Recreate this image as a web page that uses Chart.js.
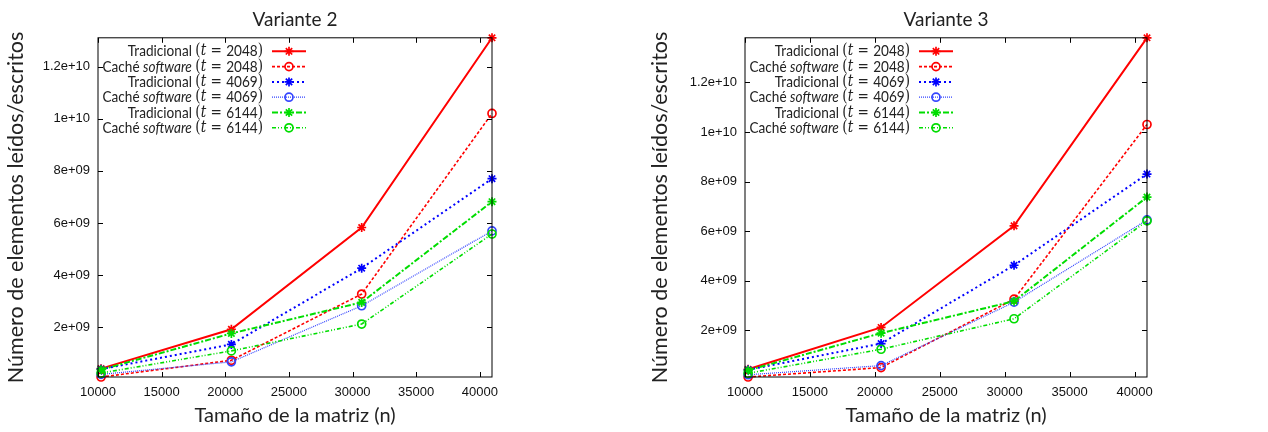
<!DOCTYPE html>
<html>
<head>
<meta charset="utf-8">
<script src="https://cdn.jsdelivr.net/npm/chart.js@4/dist/chart.umd.min.js"></script>
<style>
  html, body { margin: 0; padding: 0; background: #fff; }
  .wrap { position: absolute; top: 0; width: 634px; height: 432px; }
</style>
</head>
<body>
<div class="wrap" style="left:0"><canvas id="c2" width="634" height="432"></canvas></div>
<div class="wrap" style="left:634px"><canvas id="c3" width="634" height="432"></canvas></div>
<script>
// matrix sizes (n)
const nValues = [10240, 20480, 30720, 40960];

// Variante 2
const v2Trad2048 = [0.42e9, 1.93e9, 5.83e9, 13.1e9];
const v2Cache2048 = [0.10e9, 0.74e9, 3.28e9, 10.2e9];
const v2Trad4069 = [0.40e9, 1.35e9, 4.27e9, 7.70e9];
const v2Cache4069 = [0.20e9, 0.68e9, 2.83e9, 5.70e9];
const v2Trad6144 = [0.38e9, 1.77e9, 2.96e9, 6.82e9];
const v2Cache6144 = [0.25e9, 1.10e9, 2.13e9, 5.58e9];

// Variante 3
const v3Trad2048 = [0.42e9, 2.11e9, 6.21e9, 13.8e9];
const v3Cache2048 = [0.11e9, 0.49e9, 3.25e9, 10.3e9];
const v3Trad4069 = [0.40e9, 1.46e9, 4.62e9, 8.30e9];
const v3Cache4069 = [0.20e9, 0.57e9, 3.13e9, 6.45e9];
const v3Trad6144 = [0.38e9, 1.88e9, 3.17e9, 7.37e9];
const v3Cache6144 = [0.26e9, 1.23e9, 2.46e9, 6.41e9];

const xTicks = [10000, 15000, 20000, 25000, 30000, 35000, 40000];
const yTicks = [2e9, 4e9, 6e9, 8e9, 1e10, 1.2e10];
const yTickLabels = ['2e+09', '4e+09', '6e+09', '8e+09', '1e+10', '1.2e+10'];
const xMin = 10000;

const legendMethods = ['Tradicional', 'Caché software', 'Tradicional', 'Caché software', 'Tradicional', 'Caché software'];
const legendSizes = ['2048', '2048', '4069', '4069', '6144', '6144'];

const TEXT = '#222';
const SANS = 'Lato, "DejaVu Sans", sans-serif';
const SERIF = '"DejaVu Serif", "Liberation Serif", serif';
const TICKFONT = '"Liberation Sans", Arial, sans-serif';

const seriesStyles = [
  { color: '#ff0000', dash: [], width: 2, marker: 'star' },
  { color: '#ff0000', dash: [3, 2], width: 1.6, marker: 'circle' },
  { color: '#0000ff', dash: [2, 3], width: 2, marker: 'star' },
  { color: '#3344ff', dash: [1, 1], width: 1.2, marker: 'circle' },
  { color: '#00dd00', dash: [6, 2, 2, 2], width: 2, marker: 'star' },
  { color: '#00dd00', dash: [4, 2, 1, 2, 1, 2], width: 1.6, marker: 'circle' }
];

// frame + inward ticks on all four sides (gnuplot style)
const framePlugin = {
  id: 'frame',
  afterDraw(chart) {
    const { ctx, chartArea: a, scales } = chart;
    ctx.save();
    ctx.strokeStyle = '#000';
    ctx.lineWidth = 1;
    ctx.strokeRect(a.left, a.top, a.right - a.left, a.bottom - a.top);
    const tl = 5;
    ctx.beginPath();
    xTicks.forEach(v => {
      const x = Math.round(scales.x.getPixelForValue(v)) + 0.5;
      ctx.moveTo(x, a.bottom); ctx.lineTo(x, a.bottom - tl);
      ctx.moveTo(x, a.top); ctx.lineTo(x, a.top + tl);
    });
    yTicks.forEach(v => {
      const y = Math.round(scales.y.getPixelForValue(v)) + 0.5;
      ctx.moveTo(a.left, y); ctx.lineTo(a.left + tl, y);
      ctx.moveTo(a.right, y); ctx.lineTo(a.right - tl, y);
    });
    ctx.stroke();
    ctx.restore();
  }
};

// legend with mixed fonts (italic "software", math "t")
const legendPlugin = {
  id: 'mixedLegend',
  afterDatasetsDraw(chart) {
    const { ctx, chartArea: a } = chart;
    const fs = 16;
    const sx = 0.85; // narrow the text, like the LaTeX sans font
    const fSans = fs + 'px ' + SANS;
    const fSansIt = 'italic ' + fs + 'px ' + SANS;
    const fSerif = fs + 'px ' + SERIF;
    const fSerifIt = 'italic ' + fs + 'px ' + SERIF;
    const textRight = a.left + 165;
    const lineX0 = a.left + 174, lineX1 = a.left + 208;
    ctx.save();
    ctx.textBaseline = 'middle';
    ctx.textAlign = 'left';
    ctx.fillStyle = TEXT;
    chart.data.datasets.forEach((ds, i) => {
      const y = a.top + 13.5 + i * 15.3;
      const m = legendMethods[i];
      let parts;
      if (m.indexOf('software') >= 0) {
        parts = [[m.replace('software', ''), fSans], ['software', fSansIt], [' ', fSans]];
      } else {
        parts = [[m + ' ', fSans]];
      }
      parts = parts.concat([['(', fSerif], ['t', fSerifIt], [' = ', fSerif], [legendSizes[i], fSans], [')', fSerif]]);
      let total = 0;
      parts.forEach(p => { ctx.font = p[1]; total += ctx.measureText(p[0]).width * sx; });
      let x = textRight - total;
      parts.forEach(p => {
        ctx.font = p[1];
        ctx.save();
        ctx.translate(x, y);
        ctx.scale(sx, 1);
        ctx.fillText(p[0], 0, 0);
        ctx.restore();
        x += ctx.measureText(p[0]).width * sx;
      });
      // sample line + marker
      ctx.save();
      ctx.strokeStyle = ds.borderColor;
      ctx.lineWidth = ds.borderWidth;
      ctx.setLineDash(ds.borderDash || []);
      ctx.beginPath();
      ctx.moveTo(lineX0, y); ctx.lineTo(lineX1, y);
      ctx.stroke();
      ctx.setLineDash([]);
      ctx.lineWidth = ds.pointBorderWidth;
      ctx.fillStyle = 'rgba(0,0,0,0)';
      Chart.helpers.drawPoint(ctx, {
        pointStyle: ds.pointStyle, radius: ds.pointRadius, borderWidth: ds.pointBorderWidth, rotation: 0
      }, (lineX0 + lineX1) / 2, y);
      ctx.restore();
    });
    ctx.restore();
  }
};

function makeChart(id, title, series, padLeft, padRight, yWidth) {
  const all = [].concat(...series);
  const yMin = Math.min(...all);
  const yMax = Math.max(...all);
  const datasets = series.map((vals, i) => {
    const st = seriesStyles[i];
    return {
      label: legendMethods[i] + ' (t = ' + legendSizes[i] + ')',
      data: nValues.map((n, k) => ({ x: n, y: vals[k] })),
      borderColor: st.color,
      borderWidth: st.width,
      borderDash: st.dash,
      pointStyle: st.marker,
      pointRadius: st.marker === 'star' ? 4.5 : 4,
      pointBorderWidth: 1.7,
      pointBorderColor: st.color,
      pointBackgroundColor: 'rgba(0,0,0,0)',
      fill: false,
      tension: 0,
      clip: false,
      order: 5 - i
    };
  });
  return new Chart(document.getElementById(id), {
    type: 'line',
    data: { datasets },
    options: {
      responsive: false,
      animation: false,
      layout: { padding: { left: padLeft, right: padRight, top: 2, bottom: 0 } },
      plugins: {
        legend: { display: false },
        tooltip: { enabled: false },
        title: {
          display: true,
          text: title,
          fullSize: false,
          color: TEXT,
          font: { family: SANS, size: 19, weight: 'normal' },
          padding: { top: 6, bottom: 7 }
        }
      },
      scales: {
        x: {
          type: 'linear',
          min: xMin,
          max: nValues[nValues.length - 1],
          afterBuildTicks: s => { s.ticks = xTicks.map(v => ({ value: v })); },
          afterFit: s => { s.height = 55; },
          grid: { display: true, drawOnChartArea: false, drawTicks: false, color: 'rgba(0,0,0,0)' },
          border: { display: false },
          ticks: {
            autoSkip: false, maxRotation: 0, padding: 8, color: '#111',
            font: { family: TICKFONT, size: 13 },
            callback: v => String(v)
          },
          title: {
            display: true,
            text: 'Tamaño de la matriz (n)',
            color: TEXT,
            font: { family: SANS, size: 20 },
            padding: { top: 4, bottom: 4 }
          }
        },
        y: {
          type: 'linear',
          min: yMin,
          max: yMax,
          afterBuildTicks: s => { s.ticks = yTicks.map(v => ({ value: v })); },
          afterFit: s => { s.width = yWidth; },
          grid: { display: true, drawOnChartArea: false, drawTicks: false, color: 'rgba(0,0,0,0)' },
          border: { display: false },
          ticks: {
            autoSkip: false, padding: 8, color: '#111',
            font: { family: TICKFONT, size: 13 },
            callback: v => yTickLabels[yTicks.indexOf(v)]
          },
          title: {
            display: true,
            text: 'Número de elementos leídos/escritos',
            color: TEXT,
            font: { family: SANS, size: 21.5 },
            padding: { top: 3, bottom: 4 }
          }
        }
      }
    },
    plugins: [framePlugin, legendPlugin]
  });
}

makeChart('c2', 'Variante 2',
  [v2Trad2048, v2Cache2048, v2Trad4069, v2Cache4069, v2Trad6144, v2Cache6144], 0, 142, 98);
makeChart('c3', 'Variante 3',
  [v3Trad2048, v3Cache2048, v3Trad4069, v3Cache4069, v3Trad6144, v3Cache6144], 10, 121, 101);
</script>
</body>
</html>
